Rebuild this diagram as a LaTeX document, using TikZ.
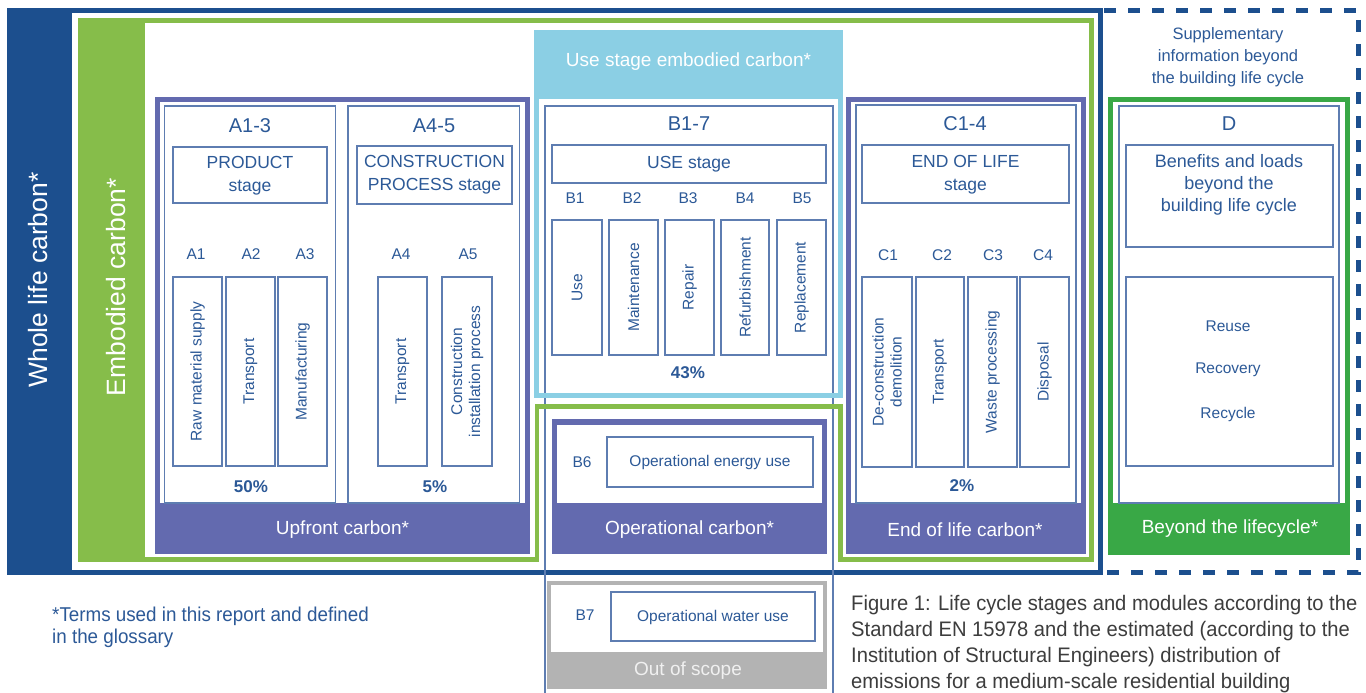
\documentclass[tikz,border=0pt]{standalone}
\usepackage{fontspec}
\setmainfont{Liberation Sans}
\newfontfamily\condfont[FakeStretch=0.94]{Liberation Sans}
\newfontfamily\capfont[FakeStretch=0.96]{Liberation Sans}
\definecolor{dblue}{HTML}{1C4F8E}
\definecolor{lgreen}{HTML}{86BD4A}
\definecolor{purp}{HTML}{636AAF}
\definecolor{lblue}{HTML}{8BCFE4}
\definecolor{bgreen}{HTML}{39A846}
\definecolor{greybox}{HTML}{B3B3B3}
\definecolor{txt}{HTML}{2C5997}
\definecolor{thinc}{HTML}{5E7DB1}
\definecolor{captxt}{HTML}{3D3D3D}
\tikzset{
  lbl/.style={text=txt, inner sep=0pt, font=\fontsize{15.5}{18}\selectfont},
  head/.style={text=txt, inner sep=0pt, font=\fontsize{20}{24}\selectfont},
  stg/.style={text=txt, inner sep=0pt, align=center, font=\fontsize{17.5}{23}\selectfont},
  pct/.style={text=txt, inner sep=0pt, font=\bfseries\fontsize{17}{20}\selectfont},
  band/.style={text=white, inner sep=0pt, font=\fontsize{19}{22}\selectfont},
  tline/.style={draw=thinc, line width=1.2pt},
  vert/.style={text=txt, inner sep=0pt, rotate=90, align=center, font=\fontsize{15.5}{18}\selectfont},
  sidetxt/.style={text=white, inner sep=0pt, rotate=90, font=\fontsize{26.5}{30}\selectfont},
}
\begin{document}
\begin{tikzpicture}[x=1pt,y=-1pt]
\fill[white] (0,0) rectangle (1366,693);
\useasboundingbox (0,0) rectangle (1366,693);
% whole life carbon
\fill[dblue] (7,8) rectangle (1103,575);
\fill[white] (72,13) rectangle (1098,570);
% embodied carbon
\fill[lgreen] (78,18) rectangle (1094,562);
\fill[white] (145,23) rectangle (1089,557);
\fill[white] (539,555) rectangle (838,564);
% B column thin lines
\draw[tline] (545,693) -- (545,106) -- (833,106) -- (833,693);
% green notch
\fill[lgreen] (535,404) rectangle (843,409);
\fill[lgreen] (535,404) rectangle (539,562);
\fill[lgreen] (838,404) rectangle (843,562);
% light blue use stage embodied
\fill[lblue] (534,30) rectangle (843,99);
\draw[lblue, line width=5pt] (536.5,99) -- (536.5,395.5) -- (840.5,395.5) -- (840.5,99);
\node[band] (usemb) at (688.5,62) {Use stage embodied carbon*};

\node[sidetxt] (whole) at (38,280) {Whole life carbon*};
\node[sidetxt] (emb) at (116,287) {Embodied carbon*};

% upfront
\fill[purp] (155,97) rectangle (530,554);
\fill[white] (160,102) rectangle (525,503);
\draw[tline] (164.5,106) rectangle (335.5,503);
\draw[tline] (348,106) rectangle (519.5,503);
\node[band] (upf) at (342.5,529.5) {Upfront carbon*};
\node[head] (a13) at (250,126) {A1-3};
\draw[tline] (173,147) rectangle (327,203);
\node[stg] (prod) at (250,175.5) {PRODUCT\\stage};
\node[lbl] (a1) at (196,254) {A1};
\node[lbl] (a2) at (251,254) {A2};
\node[lbl] (a3) at (305,254) {A3};
\draw[tline] (173,277) rectangle (222,466);
\draw[tline] (226,277) rectangle (275,466);
\draw[tline] (278,277) rectangle (327,466);
\node[vert] (a1t) at (197.5,371.5) {Raw material supply};
\node[vert] (a2t) at (250.5,371.5) {Transport};
\node[vert] (a3t) at (302.5,371.5) {Manufacturing};
\node[pct] (p50) at (251,487) {50\%};
\node[head] (a45) at (434,126) {A4-5};
\draw[tline] (357,146) rectangle (512,204);
\node[stg] (cons) at (434.5,175) {CONSTRUCTION\\PROCESS stage};
\node[lbl] (a4) at (401,254) {A4};
\node[lbl] (a5) at (468,254) {A5};
\draw[tline] (378,277) rectangle (427,466);
\draw[tline] (442,277) rectangle (492,466);
\node[vert] (a4t) at (402.5,371.5) {Transport};
\node[vert] (a5t) at (467,371.5) {Construction\\installation process};
\node[pct] (p5) at (435,487) {5\%};

% use stage
\node[head] (b17) at (689,124) {B1-7};
\draw[tline] (552,145) rectangle (826,183);
\node[stg] (usest) at (689,164.5) {USE stage};
\node[lbl] (b1) at (575,198) {B1};
\node[lbl] (b2) at (632,198) {B2};
\node[lbl] (b3) at (688,198) {B3};
\node[lbl] (b4) at (745,198) {B4};
\node[lbl] (b5) at (802,198) {B5};
\draw[tline] (552,220) rectangle (602,355);
\draw[tline] (609,220) rectangle (658,355);
\draw[tline] (665,220) rectangle (714,355);
\draw[tline] (721,220) rectangle (769,355);
\draw[tline] (777,220) rectangle (826,355);
\node[vert] (b1t) at (577,287.5) {Use};
\node[vert] (b2t) at (633.5,287.5) {Maintenance};
\node[vert] (b3t) at (689.5,287.5) {Repair};
\node[vert] (b4t) at (745,287.5) {Refurbishment};
\node[vert] (b5t) at (801.5,287.5) {Replacement};
\node[pct] (p43) at (688,373) {43\%};

% operational
\fill[purp] (552,419) rectangle (827,554);
\fill[white] (557,425) rectangle (822,503);
\node[lbl] (b6) at (582,462) {B6};
\draw[tline] (607,437) rectangle (813,487);
\node[lbl] (b6t) at (710,462) {Operational energy use};
\node[band] (opc) at (689.5,529.5) {Operational carbon*};

% end of life
\fill[purp] (846,97) rectangle (1086,554);
\fill[white] (851,102) rectangle (1081,503);
\draw[tline] (856,105) rectangle (1076,503);
\node[head] (c14) at (965,124) {C1-4};
\draw[tline] (862,145) rectangle (1069,203);
\node[stg] (eol) at (965.5,174.5) {END OF LIFE\\stage};
\node[lbl] (c1) at (888,255) {C1};
\node[lbl] (c2) at (942,255) {C2};
\node[lbl] (c3) at (993,255) {C3};
\node[lbl] (c4) at (1043,255) {C4};
\draw[tline] (862,277) rectangle (912,467);
\draw[tline] (916,277) rectangle (964,467);
\draw[tline] (968,277) rectangle (1017,467);
\draw[tline] (1020,277) rectangle (1069,467);
\node[vert] (c1t) at (887,372) {De-construction\\demolition};
\node[vert] (c2t) at (940,372) {Transport};
\node[vert] (c3t) at (992.5,372) {Waste processing};
\node[vert] (c4t) at (1044.5,372) {Disposal};
\node[pct] (p2) at (962,486) {2\%};
\node[band] (eolc) at (965,529.5) {End of life carbon*};

% beyond
\node[text=txt, inner sep=0pt, align=center, font=\fontsize{16.5}{22}\selectfont] (supp) at (1228,57) {Supplementary\\information beyond\\the building life cycle};
\fill[bgreen] (1108,97) rectangle (1350,555);
\fill[white] (1113,102) rectangle (1345,503);
\draw[tline] (1119,106) rectangle (1339,503);
\node[head] (dd) at (1229,124) {D};
\draw[tline] (1126,145) rectangle (1333,247);
\node[text=txt, inner sep=0pt, align=center, font=\fontsize{18}{22}\selectfont, anchor=north] (ben) at (1229,154) {Benefits and loads\\beyond the\\building life cycle};
\draw[tline] (1126,277) rectangle (1333,466);
\node[lbl] (reuse) at (1228,326) {Reuse};
\node[lbl] (recov) at (1228,370) {Recovery};
\node[lbl] (recyc) at (1228,414) {Recycle};
\node[band] (beyc) at (1230,528.5) {Beyond the lifecycle*};
\draw[dblue, line width=5pt, dash pattern=on 12pt off 12pt] (1104,10.5) -- (1358.5,10.5) -- (1358.5,572.5) -- (1104,572.5);

% out of scope
\fill[greybox] (547,581) rectangle (827,689);
\fill[white] (551,585) rectangle (823,652);
\node[lbl] (b7) at (585,615) {B7};
\draw[tline] (611,592) rectangle (815,641);
\node[lbl] (b7t) at (713,617) {Operational water use};
\node[inner sep=0pt, text=white!94!black, font=\fontsize{19}{22}\selectfont] (oos) at (688,671) {Out of scope};

% footnote and caption
\node[anchor=north west, inner sep=0pt, text=txt, align=left, font=\condfont\fontsize{20}{22}\selectfont] (foot) at (52,607) {*Terms used in this report and defined\\in the glossary};
\node[anchor=north west, inner sep=0pt, text=captxt, align=left, font=\capfont\fontsize{21}{26}\selectfont] (cap) at (851,595) {Figure 1: Life cycle stages and modules according to the\\Standard EN 15978 and the estimated (according to the\\Institution of Structural Engineers) distribution of\\emissions for a medium-scale residential building};
\end{tikzpicture}
\end{document}
